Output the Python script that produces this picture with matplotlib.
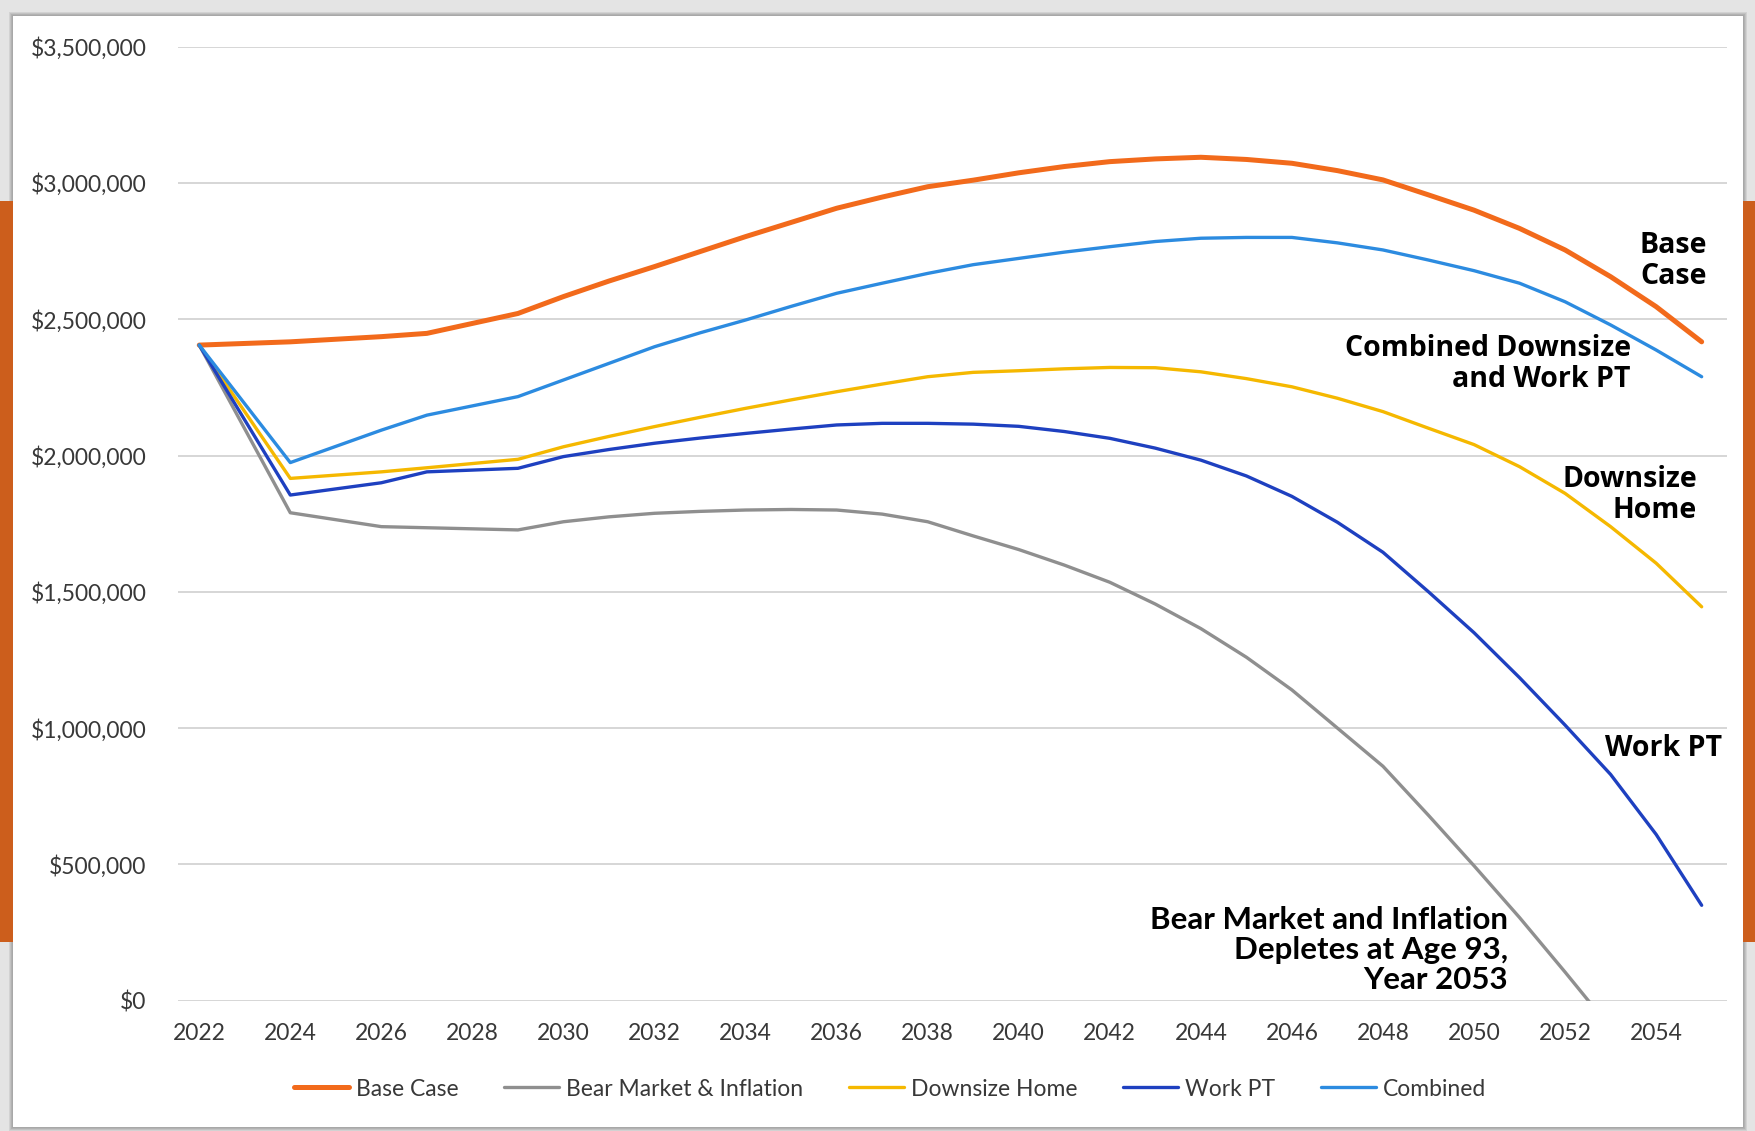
import matplotlib.pyplot as plt
from matplotlib.patches import Rectangle
from matplotlib.ticker import FuncFormatter

plt.rcParams['font.family'] = ['Lato', 'DejaVu Sans']

# years with a data point
years = [2022, 2024, 2026, 2027, 2029, 2030, 2031, 2032, 2033, 2034, 2035,
         2036, 2037, 2038, 2039, 2040, 2041, 2042, 2043, 2044, 2045, 2046,
         2047, 2048, 2049, 2050, 2051, 2052, 2053, 2054, 2055]

base_case = [2405, 2417, 2436, 2448, 2521, 2583, 2640, 2693, 2748, 2803, 2855,
             2907, 2948, 2986, 3010, 3037, 3060, 3078, 3088, 3094, 3086, 3072,
             3045, 3011, 2956, 2900, 2833, 2754, 2656, 2546, 2417]
bear_market = [2405, 1790, 1739, 1735, 1727, 1757, 1775, 1788, 1795, 1800, 1802,
               1800, 1785, 1757, 1705, 1655, 1598, 1535, 1455, 1365, 1260, 1140,
               1000, 860, 680, 495, 305, 105, -100]
downsize = [2405, 1916, 1940, 1955, 1986, 2032, 2070, 2106, 2140, 2173, 2204,
            2234, 2262, 2289, 2305, 2311, 2318, 2323, 2322, 2307, 2282, 2252,
            2210, 2161, 2100, 2040, 1959, 1861, 1739, 1605, 1445]
work_pt = [2405, 1855, 1900, 1940, 1953, 1996, 2022, 2045, 2064, 2081, 2097,
           2112, 2118, 2118, 2115, 2107, 2088, 2063, 2027, 1983, 1925, 1850,
           1755, 1645, 1500, 1350, 1185, 1011, 830, 610, 350]
combined = [2405, 1974, 2093, 2148, 2216, 2277, 2338, 2399, 2450, 2497, 2547,
            2595, 2632, 2668, 2700, 2723, 2746, 2766, 2785, 2797, 2800, 2800,
            2780, 2754, 2717, 2678, 2632, 2564, 2479, 2387, 2289]

series = [
    ("Base Case", base_case, "#F26A1B", 3.6),
    ("Bear Market & Inflation", bear_market, "#8F8F8F", 2.4),
    ("Downsize Home", downsize, "#F5B800", 2.4),
    ("Work PT", work_pt, "#1E40C0", 2.4),
    ("Combined", combined, "#2C8BE0", 2.4),
]

W, H = 1755, 1131
fig = plt.figure(figsize=(W / 100, H / 100), dpi=100)
fig.patch.set_facecolor('#e4e4e4')

def fx(px):
    return px / W

def fy(py):
    return 1 - py / H

# card with a soft shadow
for i, c in enumerate(['#d2d2d2', '#c2c2c2', '#b2b2b2', '#a8a8a8']):
    g = 4 - i
    fig.patches.append(Rectangle((fx(13 - g), fy(1127 + g)), (1730 + 2 * g) / W,
                                 (1111 + 2 * g) / H, transform=fig.transFigure,
                                 facecolor=c, edgecolor='none', zorder=-12 + i))
fig.patches.append(Rectangle((fx(13), fy(1127)), 1730 / W, 1111 / H,
                             transform=fig.transFigure, facecolor='white',
                             edgecolor='none', zorder=-5))
# orange side bars
for x0, w in [(0, 13), (1743, 12)]:
    fig.patches.append(Rectangle((fx(x0), fy(942)), w / W, (942 - 201) / H,
                                 transform=fig.transFigure, facecolor='#CC5E1C',
                                 edgecolor='none', zorder=-4))

ax = fig.add_axes([fx(178.3), fy(1000.7), (1726.7 - 178.3) / W, (1000.7 - 46.6) / H])
ax.set_facecolor('none')

handles = []
for name, vals, col, lw in series:
    yrs = years[:len(vals)]
    ln, = ax.plot(yrs, [v * 1000 for v in vals], color=col, lw=lw, label=name,
                  solid_capstyle='round', solid_joinstyle='round')
    handles.append(ln)

ax.set_xlim(2021.54, 2055.55)
ax.set_ylim(0, 3500000)
ax.set_xticks(range(2022, 2055, 2))
ax.set_yticks(range(0, 3500001, 500000))
ax.yaxis.set_major_formatter(FuncFormatter(lambda v, p: f"${v:,.0f}"))
ax.grid(axis='y', color='#d6d6d6', lw=1.4)
ax.set_axisbelow(True)
for s in ax.spines.values():
    s.set_visible(False)
ax.tick_params(axis='y', length=0, pad=23, labelsize=16.5, labelcolor='#383838')
ax.tick_params(axis='x', length=0, pad=16, labelsize=16.5, labelcolor='#383838')

leg = fig.legend(handles, [s[0] for s in series], loc='center',
                 bbox_to_anchor=(fx(890), fy(1089)), ncol=5, frameon=False,
                 fontsize=16.5, handlelength=2.4, handletextpad=0.3,
                 columnspacing=2.0)
for t in leg.get_texts():
    t.set_color('#383838')

lab = dict(ha='right', va='center', fontsize=20.5, fontweight='bold',
           color='black', linespacing=1.08, family=['Open Sans', 'DejaVu Sans'])
fig.text(fx(1707), fy(261), "Base\nCase", **lab)
fig.text(fx(1631), fy(364), "Combined Downsize\nand Work PT", **lab)
fig.text(fx(1697), fy(495), "Downsize\nHome", **lab)
fig.text(fx(1722), fy(748), "Work PT", **lab)
lab['family'] = ['Lato', 'DejaVu Sans']
lab['fontsize'] = 22.5
lab['linespacing'] = 1.1
fig.text(fx(1508), fy(950), "Bear Market and Inflation\nDepletes at Age 93,\nYear 2053", **lab)

fig.savefig("out.png", dpi=100)
